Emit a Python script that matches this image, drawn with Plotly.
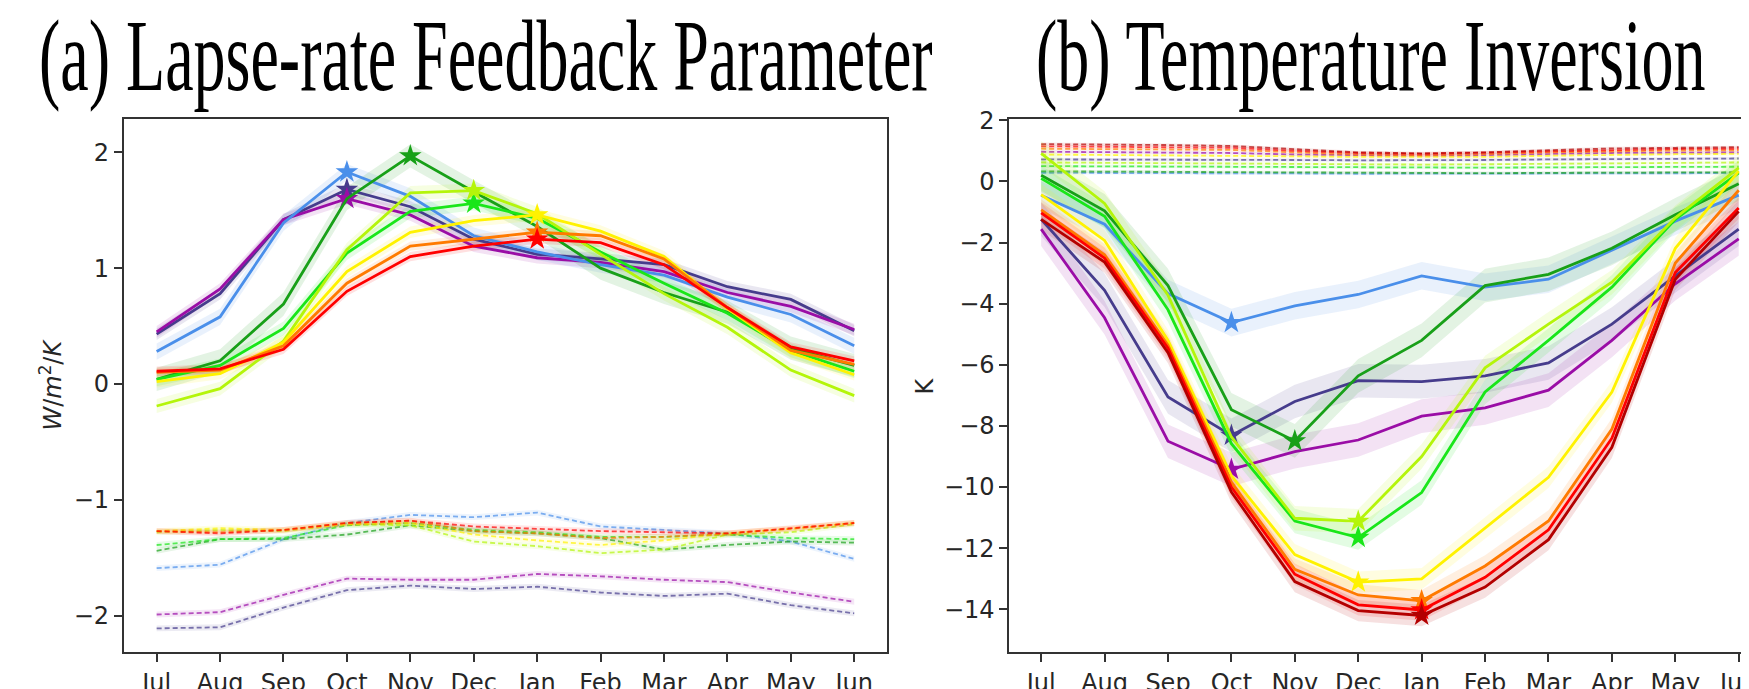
import numpy as np
import plotly.graph_objects as go

months = ["Jul", "Aug", "Sep", "Oct", "Nov", "Dec", "Jan", "Feb", "Mar", "Apr", "May", "Jun"]
series_names = ["indigo", "purple", "blue", "dgreen", "lime", "ygreen", "yellow", "orange", "red", "dred"]
colors = {
    "indigo": "#463C8C", "purple": "#9A0DA6", "blue": "#4A8FEA", "dgreen": "#18A018",
    "lime": "#19E619", "ygreen": "#B4F50A", "yellow": "#FFF200", "orange": "#FF7A00",
    "red": "#FF0000", "dred": "#B30000",
}

# ---- panel (a): lapse-rate feedback parameter (solid) ----
indigo_a = [0.43, 0.78, 1.42, 1.68, 1.53, 1.25, 1.12, 1.08, 1.03, 0.84, 0.73, 0.46]
purple_a = [0.45, 0.82, 1.42, 1.60, 1.46, 1.19, 1.09, 1.05, 0.97, 0.79, 0.67, 0.47]
blue_a = [0.28, 0.58, 1.39, 1.83, 1.62, 1.28, 1.14, 1.03, 0.94, 0.75, 0.60, 0.33]
dgreen_a = [0.04, 0.20, 0.69, 1.60, 1.97, 1.66, 1.36, 1.00, 0.79, 0.62, 0.31, 0.16]
lime_a = [0.04, 0.16, 0.48, 1.13, 1.49, 1.56, 1.43, 1.14, 0.87, 0.61, 0.29, 0.11]
ygreen_a = [-0.19, -0.04, 0.37, 1.16, 1.65, 1.67, 1.47, 1.12, 0.78, 0.49, 0.12, -0.10]
yellow_a = [0.02, 0.09, 0.36, 0.97, 1.31, 1.41, 1.46, 1.32, 1.10, 0.65, 0.27, 0.08]
orange_a = [0.10, 0.12, 0.33, 0.87, 1.19, 1.25, 1.31, 1.28, 1.08, 0.66, 0.29, 0.17]
red_a = [0.11, 0.13, 0.30, 0.80, 1.10, 1.19, 1.25, 1.22, 1.03, 0.66, 0.32, 0.20]

# ---- panel (a): dashed ----
indigo_a_d = [-2.11, -2.10, -1.93, -1.78, -1.74, -1.77, -1.75, -1.80, -1.83, -1.81, -1.91, -1.98]
purple_a_d = [-1.99, -1.97, -1.82, -1.68, -1.69, -1.69, -1.64, -1.66, -1.69, -1.71, -1.80, -1.88]
blue_a_d = [-1.59, -1.56, -1.34, -1.20, -1.13, -1.15, -1.11, -1.23, -1.26, -1.29, -1.36, -1.51]
dgreen_a_d = [-1.44, -1.34, -1.34, -1.30, -1.22, -1.27, -1.29, -1.33, -1.43, -1.39, -1.36, -1.37]
lime_a_d = [-1.39, -1.34, -1.33, -1.22, -1.20, -1.26, -1.28, -1.32, -1.32, -1.30, -1.33, -1.34]
ygreen_a_d = [-1.28, -1.26, -1.27, -1.21, -1.22, -1.36, -1.40, -1.46, -1.43, -1.30, -1.28, -1.21]
yellow_a_d = [-1.27, -1.245, -1.26, -1.21, -1.20, -1.30, -1.35, -1.39, -1.35, -1.29, -1.25, -1.20]
orange_a_d = [-1.27, -1.28, -1.26, -1.20, -1.18, -1.27, -1.29, -1.33, -1.32, -1.29, -1.25, -1.20]
red_a_d = [-1.27, -1.29, -1.26, -1.20, -1.18, -1.23, -1.25, -1.27, -1.28, -1.29, -1.245, -1.20]

# ---- panel (b): temperature inversion (solid) ----
blue_b = [-0.45, -1.40, -3.67, -4.62, -4.07, -3.70, -3.09, -3.46, -3.20, -2.25, -1.30, -0.45]
indigo_b = [-1.24, -3.56, -7.05, -8.31, -7.20, -6.52, -6.55, -6.36, -5.94, -4.67, -3.09, -1.56]
purple_b = [-1.56, -4.46, -8.50, -9.42, -8.84, -8.46, -7.68, -7.41, -6.83, -5.20, -3.35, -1.88]
dgreen_b = [0.20, -0.96, -3.41, -7.47, -8.49, -6.36, -5.20, -3.41, -3.04, -2.19, -1.09, -0.08]
lime_b = [0.10, -1.14, -4.20, -8.58, -11.11, -11.65, -10.18, -6.89, -5.20, -3.46, -1.24, 0.28]
ygreen_b = [0.92, -0.72, -3.72, -8.36, -11.02, -11.12, -9.00, -6.10, -4.67, -3.30, -1.19, 0.44]
yellow_b = [-0.43, -1.93, -5.20, -9.63, -12.21, -13.11, -13.00, -11.34, -9.68, -6.89, -2.19, 0.34]
orange_b = [-0.93, -2.40, -5.36, -9.84, -12.69, -13.53, -13.72, -12.58, -11.11, -8.10, -2.67, -0.29]
red_b = [-1.03, -2.51, -5.46, -10.00, -12.85, -13.85, -14.02, -12.95, -11.40, -8.40, -2.98, -0.87]
dred_b = [-1.24, -2.64, -5.60, -10.16, -13.09, -14.04, -14.20, -13.27, -11.72, -8.70, -3.20, -0.98]

# ---- panel (b): dashed ----
dred_b_d = [1.22, 1.21, 1.19, 1.16, 1.05, 0.95, 0.92, 0.95, 1.02, 1.08, 1.10, 1.12]
red_b_d = [1.15, 1.14, 1.13, 1.10, 1.00, 0.93, 0.90, 0.94, 1.00, 1.04, 1.06, 1.07]
orange_b_d = [1.07, 1.06, 1.05, 1.03, 0.95, 0.88, 0.86, 0.89, 0.95, 0.99, 1.01, 1.02]
purple_b_d = [0.97, 0.96, 0.95, 0.93, 0.88, 0.85, 0.84, 0.86, 0.90, 0.93, 0.94, 0.95]
yellow_b_d = [0.88, 0.87, 0.86, 0.85, 0.82, 0.80, 0.79, 0.80, 0.84, 0.87, 0.89, 0.90]
indigo_b_d = [0.72, 0.72, 0.71, 0.71, 0.70, 0.69, 0.69, 0.70, 0.72, 0.73, 0.74, 0.75]
ygreen_b_d = [0.62, 0.61, 0.60, 0.59, 0.57, 0.55, 0.55, 0.56, 0.58, 0.60, 0.61, 0.62]
lime_b_d = [0.50, 0.49, 0.48, 0.47, 0.46, 0.45, 0.45, 0.45, 0.46, 0.47, 0.48, 0.48]
dgreen_b_d = [0.33, 0.32, 0.31, 0.30, 0.28, 0.27, 0.26, 0.27, 0.28, 0.29, 0.30, 0.30]
blue_b_d = [0.28, 0.28, 0.27, 0.27, 0.26, 0.25, 0.25, 0.25, 0.26, 0.26, 0.27, 0.27]

# spread (uncertainty half-width) estimates per series
spread_a = {"indigo": 0.05, "purple": 0.05, "blue": 0.07, "dgreen": 0.10, "lime": 0.06,
            "ygreen": 0.06, "yellow": 0.05, "orange": 0.04, "red": 0.04}
spread_b = {"indigo": 0.55, "purple": 0.55, "blue": 0.45, "dgreen": 0.55, "lime": 0.40,
            "ygreen": 0.40, "yellow": 0.35, "orange": 0.35, "red": 0.35, "dred": 0.35}
spread_dash_a = 0.025
spread_dash_b = 0.05

solid_a = {"indigo": indigo_a, "purple": purple_a, "blue": blue_a, "dgreen": dgreen_a, "lime": lime_a,
           "ygreen": ygreen_a, "yellow": yellow_a, "orange": orange_a, "red": red_a}
dash_a = {"indigo": indigo_a_d, "purple": purple_a_d, "blue": blue_a_d, "dgreen": dgreen_a_d,
          "lime": lime_a_d, "ygreen": ygreen_a_d, "yellow": yellow_a_d, "orange": orange_a_d, "red": red_a_d}
solid_b = {"indigo": indigo_b, "purple": purple_b, "blue": blue_b, "dgreen": dgreen_b, "lime": lime_b,
           "ygreen": ygreen_b, "yellow": yellow_b, "orange": orange_b, "red": red_b, "dred": dred_b}
dash_b = {"indigo": indigo_b_d, "purple": purple_b_d, "blue": blue_b_d, "dgreen": dgreen_b_d,
          "lime": lime_b_d, "ygreen": ygreen_b_d, "yellow": yellow_b_d, "orange": orange_b_d,
          "red": red_b_d, "dred": dred_b_d}


def rgba(hexc, a):
    h = hexc.lstrip("#")
    r, g, b = int(h[0:2], 16), int(h[2:4], 16), int(h[4:6], 16)
    return f"rgba({r},{g},{b},{a})"


fig = go.Figure()
x = list(range(12))


def add_band(xa, ya, vals, spread, col, alpha):
    v = np.array(vals, dtype=float)
    fig.add_trace(go.Scatter(x=x, y=list(v + spread), mode="lines", line=dict(width=0),
                             xaxis=xa, yaxis=ya, showlegend=False, hoverinfo="skip"))
    fig.add_trace(go.Scatter(x=x, y=list(v - spread), mode="lines", line=dict(width=0),
                             fill="tonexty", fillcolor=rgba(col, alpha),
                             xaxis=xa, yaxis=ya, showlegend=False, hoverinfo="skip"))


def add_panel(xa, ya, solid, dash, spread, dspread, use_max):
    # dashed lines with light bands
    for name in series_names:
        if name not in dash:
            continue
        col = colors[name]
        add_band(xa, ya, dash[name], dspread, col, 0.10)
        fig.add_trace(go.Scatter(x=x, y=dash[name], mode="lines",
                                 line=dict(color=rgba(col, 0.7), width=1.8, dash="5px,3px"),
                                 xaxis=xa, yaxis=ya, showlegend=False))
    # solid lines with bands
    for name in series_names:
        if name not in solid:
            continue
        col = colors[name]
        add_band(xa, ya, solid[name], spread[name], col, 0.12)
    for name in series_names:
        if name not in solid:
            continue
        col = colors[name]
        vals = solid[name]
        fig.add_trace(go.Scatter(x=x, y=vals, mode="lines", line=dict(color=col, width=2.8),
                                 xaxis=xa, yaxis=ya, showlegend=False))
        idx = int(np.argmax(vals)) if use_max else int(np.argmin(vals))
        fig.add_trace(go.Scatter(x=[x[idx]], y=[vals[idx]], mode="markers",
                                 marker=dict(symbol="star", size=17, color=col, line=dict(width=0)),
                                 xaxis=xa, yaxis=ya, showlegend=False))


add_panel("x", "y", solid_a, dash_a, spread_a, spread_dash_a, True)
add_panel("x2", "y2", solid_b, dash_b, spread_b, spread_dash_b, False)

W, H = 1749, 689
axis_common = dict(showgrid=False, zeroline=False, showline=True, linecolor="#333333", linewidth=2,
                   ticks="outside", ticklen=8, tickwidth=1.6, tickcolor="#333333",
                   ticklabeloverflow="allow",
                   tickfont=dict(family="DejaVu Sans", size=24, color="#262626"))

y_dom = [1 - 653 / H, 1 - 102 / H]
fig.update_layout(
    width=W, height=H, margin=dict(l=0, r=0, t=0, b=0),
    paper_bgcolor="white", plot_bgcolor="white", showlegend=False,
    xaxis=dict(domain=[117 / W, 887 / W], range=[-0.516, 11.515], tickvals=x, ticktext=months,
               mirror=True, anchor="y", **axis_common),
    yaxis=dict(domain=y_dom, range=[-2.315, 2.29], tickvals=[-2, -1, 0, 1, 2],
               ticktext=["\u22122", "\u22121", "0", "1", "2"], mirror=True, anchor="x", **axis_common),
    xaxis2=dict(domain=[1010.7 / W, 1.0], range=[-0.5, 11.036], tickvals=x, ticktext=months,
                mirror=True, anchor="y2", **axis_common),
    yaxis2=dict(domain=y_dom, range=[-15.40, 2.05], tickvals=[2, 0, -2, -4, -6, -8, -10, -12, -14],
                ticktext=["2", "0", "\u22122", "\u22124", "\u22126", "\u22128", "\u221210", "\u221212", "\u221214"],
                mirror=False, anchor="x2", **axis_common),
)

fig.add_annotation(text="(a) Lapse-rate Feedback Parameter", x=482 / W, y=1 - 37 / H,
                   xref="paper", yref="paper", xanchor="center", yanchor="middle", showarrow=False,
                   font=dict(family="Liberation Serif", size=64, color="black"))
fig.add_annotation(text="(b) Temperature Inversion", x=1376 / W, y=1 - 37 / H,
                   xref="paper", yref="paper", xanchor="center", yanchor="middle", showarrow=False,
                   font=dict(family="Liberation Serif", size=64, color="black"))
fig.add_annotation(text="<i>W</i>/<i>m</i><sup>2</sup>/<i>K</i>", x=43 / W, y=1 - 377 / H,
                   xref="paper", yref="paper", xanchor="center", yanchor="middle", showarrow=False,
                   textangle=-90, font=dict(family="DejaVu Sans", size=24, color="#262626"))
fig.add_annotation(text="K", x=925 / W, y=1 - 378 / H,
                   xref="paper", yref="paper", xanchor="center", yanchor="middle", showarrow=False,
                   textangle=-90, font=dict(family="DejaVu Sans", size=24, color="#262626"))

js = """
var gd = document.getElementById('{plot_id}');
function stretchTitles(){
  var S = 1.6;
  var ts = gd.querySelectorAll('text.annotation-text');
  ts.forEach(function(t){
    var s = t.textContent;
    if (s.indexOf('(a)') !== 0 && s.indexOf('(b)') !== 0) return;
    t.removeAttribute('transform');
    var bb = t.getBBox();
    var cy = bb.y + bb.height / 2;
    t.setAttribute('transform', 'translate(0,' + (cy * (1 - S)) + ') scale(1,' + S + ')');
  });
}
stretchTitles();
gd.on('plotly_afterplot', stretchTitles);
"""
fig.write_html("out.html", post_script=js)
